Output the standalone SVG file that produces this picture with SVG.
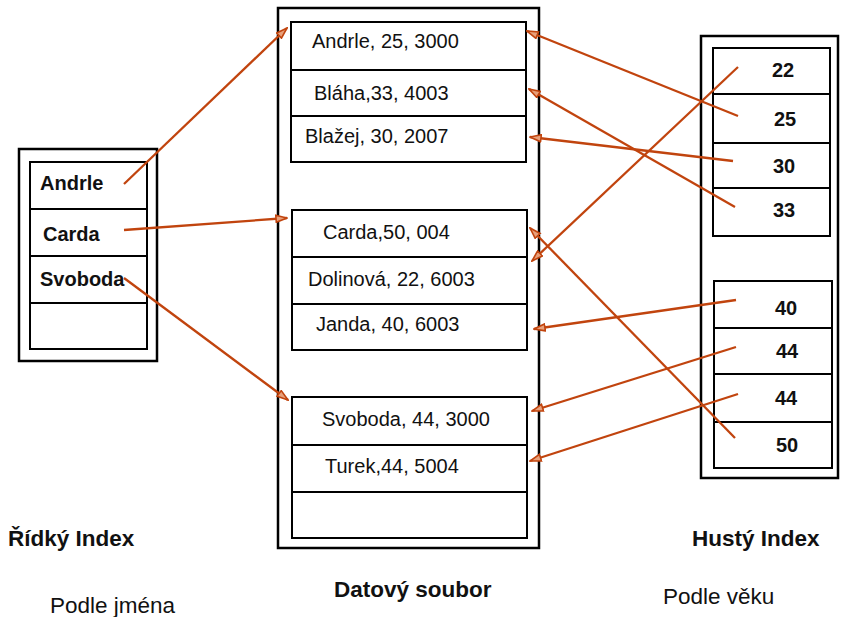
<svg xmlns="http://www.w3.org/2000/svg" width="841" height="617" viewBox="0 0 841 617">
<style>
.box{fill:#fff;stroke:#000;stroke-width:2}
.outer{fill:#fff;stroke:#000;stroke-width:2.5}
.ln{stroke:#000;stroke-width:2}
.t{font-family:"Liberation Sans",Arial,sans-serif;font-size:20px;fill:#111}
.b{font-family:"Liberation Sans",Arial,sans-serif;font-size:20px;font-weight:bold;fill:#111}
.lb{font-family:"Liberation Sans",Arial,sans-serif;font-size:22.5px;font-weight:bold;fill:#111}
.lr{font-family:"Liberation Sans",Arial,sans-serif;font-size:22.5px;fill:#111}
.a{stroke:#c1440e;stroke-width:2.3;fill:none;marker-end:url(#ah)}
</style>
<defs>
<marker id="ah" markerUnits="userSpaceOnUse" viewBox="0 0 13 9" markerWidth="13" markerHeight="9" refX="12" refY="4.5" orient="auto">
<path d="M1,1 L12,4.5 L1,8 z" fill="#e8a07a" stroke="#c1440e" stroke-width="1.6"/>
</marker>
</defs>

<g id="sparse-index">
<rect class="outer" x="19" y="149" width="138" height="212"/>
<rect class="box" x="30" y="162" width="117" height="187"/>
<line class="ln" x1="30" y1="209" x2="147" y2="209"/>
<line class="ln" x1="30" y1="256" x2="147" y2="256"/>
<line class="ln" x1="30" y1="303" x2="147" y2="303"/>
<text class="b" x="40" y="190">Andrle</text>
<text class="b" x="43" y="241">Carda</text>
<text class="b" x="40" y="286">Svoboda</text>
</g>

<g id="data-file">
<rect class="outer" x="278" y="8" width="261" height="540"/>
<g id="block1">
<rect class="box" x="291" y="22" width="235" height="140"/>
<line class="ln" x1="291" y1="70" x2="526" y2="70"/>
<line class="ln" x1="291" y1="116" x2="526" y2="116"/>
<text class="t" x="312" y="48">Andrle, 25, 3000</text>
<text class="t" x="314" y="100">Bláha,33, 4003</text>
<text class="t" x="305" y="143">Blažej, 30, 2007</text>
</g>
<g id="block2">
<rect class="box" x="292" y="210" width="235" height="140"/>
<line class="ln" x1="292" y1="257" x2="527" y2="257"/>
<line class="ln" x1="292" y1="304" x2="527" y2="304"/>
<text class="t" x="323" y="239">Carda,50, 004</text>
<text class="t" x="308" y="286">Dolinová, 22, 6003</text>
<text class="t" x="316" y="331">Janda, 40, 6003</text>
</g>
<g id="block3">
<rect class="box" x="292" y="397" width="235" height="141"/>
<line class="ln" x1="292" y1="445" x2="527" y2="445"/>
<line class="ln" x1="292" y1="492" x2="527" y2="492"/>
<text class="t" x="322" y="426">Svoboda, 44, 3000</text>
<text class="t" x="325" y="473">Turek,44, 5004</text>
</g>
</g>

<g id="dense-index">
<rect class="outer" x="701" y="36" width="137" height="442"/>
<g id="dense1">
<rect class="box" x="713" y="48" width="117" height="188"/>
<line class="ln" x1="713" y1="94" x2="830" y2="94"/>
<line class="ln" x1="713" y1="143" x2="830" y2="143"/>
<line class="ln" x1="713" y1="188" x2="830" y2="188"/>
<text class="b" x="783" y="77" text-anchor="middle">22</text>
<text class="b" x="785" y="126" text-anchor="middle">25</text>
<text class="b" x="784" y="173" text-anchor="middle">30</text>
<text class="b" x="784" y="217" text-anchor="middle">33</text>
</g>
<g id="dense2">
<rect class="box" x="714" y="281" width="118" height="187"/>
<line class="ln" x1="714" y1="328" x2="832" y2="328"/>
<line class="ln" x1="714" y1="374" x2="832" y2="374"/>
<line class="ln" x1="714" y1="422" x2="832" y2="422"/>
<text class="b" x="786" y="315" text-anchor="middle">40</text>
<text class="b" x="787" y="358" text-anchor="middle">44</text>
<text class="b" x="786" y="405" text-anchor="middle">44</text>
<text class="b" x="787" y="452" text-anchor="middle">50</text>
</g>
</g>

<g id="connectors">
<line class="a" x1="124" y1="184" x2="287" y2="28"/>
<line class="a" x1="124" y1="230" x2="287" y2="218"/>
<line class="a" x1="124" y1="278" x2="288" y2="400"/>
<line class="a" x1="738" y1="116" x2="527" y2="31"/>
<line class="a" x1="735" y1="207" x2="529" y2="89"/>
<line class="a" x1="733" y1="161" x2="530" y2="137"/>
<line class="a" x1="738" y1="67" x2="532" y2="261"/>
<line class="a" x1="735" y1="438" x2="530" y2="228"/>
<line class="a" x1="736" y1="300" x2="534" y2="329"/>
<line class="a" x1="736" y1="347" x2="532" y2="411"/>
<line class="a" x1="738" y1="394" x2="530" y2="461"/>
</g>

<g id="labels">
<text class="lb" x="8" y="546">Řídký Index</text>
<text class="lr" x="50" y="613">Podle jména</text>
<text class="lb" x="334" y="597">Datový soubor</text>
<text class="lb" x="692" y="546">Hustý Index</text>
<text class="lr" x="663" y="604">Podle věku</text>
</g>
</svg>
